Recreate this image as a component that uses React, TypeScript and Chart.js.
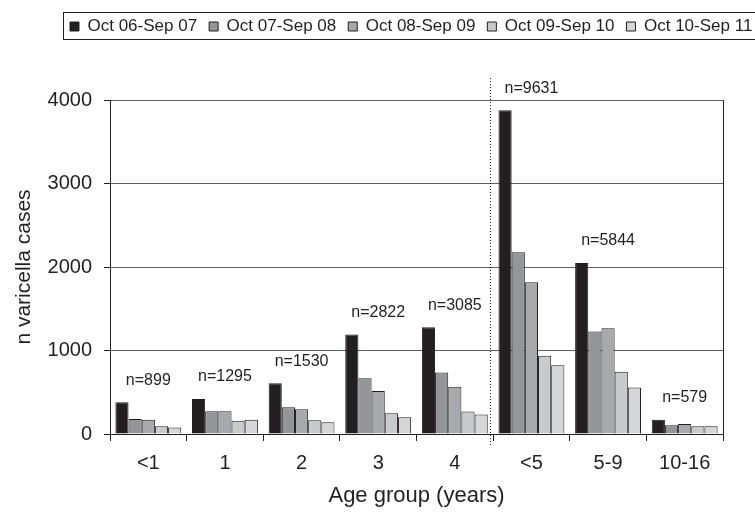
import React, { useEffect, useRef } from "react";
import { Chart, registerables } from "chart.js";

Chart.register(...registerables);

// ---- data ----
const categories = ["<1", "1", "2", "3", "4", "<5", "5-9", "10-16"];
const seasons = ["Oct 06-Sep 07", "Oct 07-Sep 08", "Oct 08-Sep 09", "Oct 09-Sep 10", "Oct 10-Sep 11"];
const s0607 = [380, 420, 608, 1192, 1278, 3878, 2047, 170];
const s0708 = [180, 272, 320, 668, 736, 2176, 1227, 105];
const s0809 = [170, 272, 296, 514, 566, 1818, 1267, 120];
const s0910 = [92, 160, 166, 248, 270, 936, 747, 92];
const s1011 = [77, 171, 140, 200, 235, 823, 556, 92];
const totals = ["n=899", "n=1295", "n=1530", "n=2822", "n=3085", "n=9631", "n=5844", "n=579"];
const yTicks = [0, 1000, 2000, 3000, 4000];

const colors = ["#231f20", "#939598", "#a7a9ac", "#c9cacc", "#d5d6d8"];
const FONT = "'Liberation Sans', Arial, Helvetica, sans-serif";
const INK = "#231f20";

export default function App() {
  const ref = useRef<HTMLCanvasElement>(null);

  useEffect(() => {
    document.body.style.margin = "0";
    const series = [s0607, s0708, s0809, s0910, s1011];
    Chart.defaults.font.family = FONT;
    Chart.defaults.color = INK;

    const deco = {
      id: "deco",
      beforeInit(chart: any) {
        const lg = chart.legend;
        if (lg) {
          const orig = lg.fit;
          lg.fit = function () {
            this.maxWidth = 2000;
            orig.call(this);
            this.height = 94;
          };
        }
      },
      afterLayout(chart: any) {
        if (chart.legend) {
          chart.legend.left = 58;
          chart.legend.right = 2000;
        }
      },
      afterDatasetsDraw(chart: any) {
        const { ctx, chartArea, scales } = chart;
        const x = scales.x;
        const y = scales.y;
        ctx.save();
        ctx.strokeStyle = INK;
        ctx.lineWidth = 1;
        // right frame line
        const xr = Math.round(chartArea.right) + 0.5;
        ctx.beginPath();
        ctx.moveTo(xr, chartArea.top);
        ctx.lineTo(xr, chartArea.bottom);
        ctx.stroke();
        // dotted separator between "4" and "<5"
        const xd = Math.round((x.getPixelForValue(4) + x.getPixelForValue(5)) / 2 - 3) + 0.5;
        ctx.setLineDash([1, 2]);
        ctx.beginPath();
        ctx.moveTo(xd, chartArea.top - 22);
        ctx.lineTo(xd, chartArea.bottom + 12);
        ctx.stroke();
        ctx.setLineDash([]);
        // n= labels
        ctx.font = `16px ${FONT}`;
        ctx.fillStyle = INK;
        ctx.textAlign = "center";
        ctx.textBaseline = "middle";
        categories.forEach((_c, i) => {
          const m = Math.max(...series.map((s) => s[i]));
          ctx.fillText(totals[i], x.getPixelForValue(i), y.getPixelForValue(m) - 22);
        });
        ctx.restore();
      },
      afterDraw(chart: any) {
        const { ctx } = chart;
        ctx.save();
        ctx.strokeStyle = INK;
        ctx.lineWidth = 1;
        ctx.strokeRect(63.5, 12.5, 760, 27);
        ctx.restore();
      },
    };

    const chart = new Chart(ref.current as HTMLCanvasElement, {
      type: "bar",
      data: {
        labels: categories,
        datasets: series.map((s, i) => ({
          label: seasons[i],
          data: s,
          backgroundColor: colors[i],
          borderColor: INK,
          borderWidth: 1,
          categoryPercentage: 0.86,
          barPercentage: 1.0,
        })),
      },
      options: {
        responsive: false,
        animation: false,
        layout: { padding: { top: 6, right: 32, left: 0, bottom: 0 } },
        plugins: {
          tooltip: { enabled: false },
          legend: {
            display: true,
            position: "top",
            align: "start",
            labels: {
              boxWidth: 9,
              boxHeight: 9,
              padding: 12,
              color: INK,
              font: { size: 17, family: FONT },
            },
          },
        },
        scales: {
          x: {
            afterFit(s: any) {
              s.height = 78;
            },
            border: { color: INK, width: 1 },
            grid: { drawOnChartArea: false, tickLength: 7, color: INK, offset: true },
            ticks: { font: { size: 20, family: FONT }, color: INK, padding: 10, maxRotation: 0 },
            title: {
              display: true,
              text: "Age group (years)",
              font: { size: 22, family: FONT },
              color: INK,
              padding: { top: 0, bottom: 3 },
            },
          },
          y: {
            min: 0,
            max: 4000,
            afterFit(s: any) {
              s.width = 110;
            },
            afterBuildTicks(s: any) {
              s.ticks = yTicks.map((v) => ({ value: v }));
            },
            border: { color: INK, width: 1 },
            grid: { color: "#5f6062", lineWidth: 1, tickLength: 6, tickColor: INK },
            ticks: {
              font: { size: 20, family: FONT },
              color: INK,
              padding: 12,
              callback: (v: any) => String(v),
            },
            title: {
              display: true,
              text: "n varicella cases",
              font: { size: 21, family: FONT },
              color: INK,
              padding: { top: 12, bottom: 0 },
            },
          },
        },
      },
      plugins: [deco],
    } as any);

    return () => chart.destroy();
  }, []);

  return (
    <div style={{ width: 755, height: 512, background: "#fff" }}>
      <canvas ref={ref} width={755} height={512} />
    </div>
  );
}
